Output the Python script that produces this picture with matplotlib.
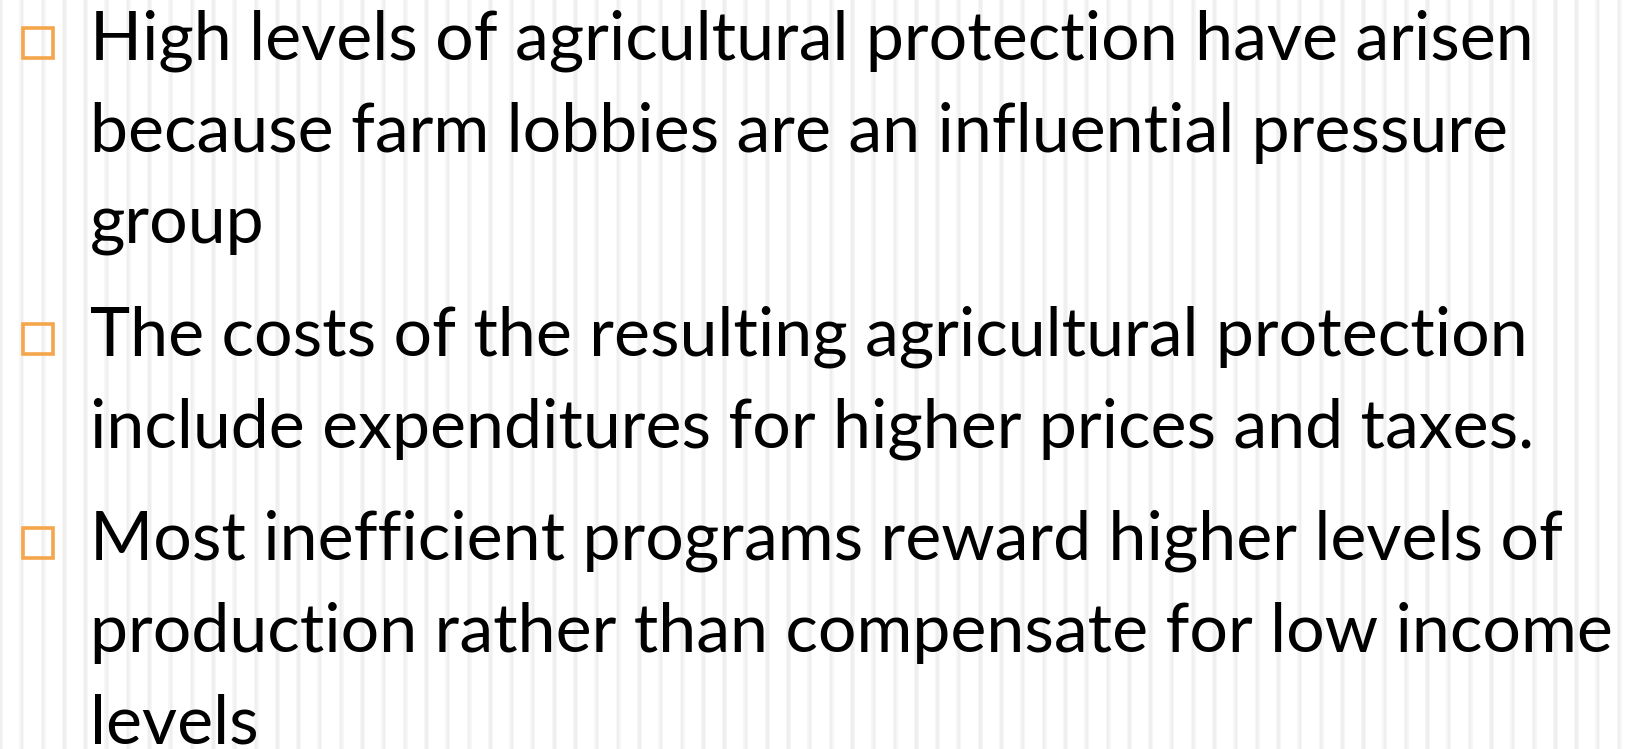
import matplotlib
matplotlib.use("Agg")
import matplotlib.pyplot as plt
import numpy as np
from matplotlib.patches import Rectangle

# slide content: each bullet is a list of wrapped lines
bullets = [
    ["High levels of agricultural protection have arisen",
     "because farm lobbies are an influential pressure",
     "group"],
    ["The costs of the resulting agricultural protection",
     "include expenditures for higher prices and taxes."],
    ["Most inefficient programs reward higher levels of",
     "production rather than compensate for low income",
     "levels"],
]

W, H = 1627, 749
fig = plt.figure(figsize=(W / 100, H / 100), dpi=100)
ax = fig.add_axes([0, 0, 1, 1])
ax.set_xlim(0, W)
ax.set_ylim(H, 0)
ax.axis("off")

# faint vertical stripes in the background
for x in np.arange(0.5, W, 21.3):
    ax.axvspan(x - 2.5, x + 2.5, color="#f6f6f6", lw=0, zorder=0)
    ax.axvspan(x - 1.2, x + 1.2, color="#efefef", lw=0, zorder=0)

line_gap = 92
para_gap = 112
y = 60
for lines in bullets:
    # orange hollow square bullet, sitting on the first baseline
    ax.add_patch(Rectangle((23, y - 32), 30, 30, fill=False,
                           edgecolor="#F5A54A", lw=2.6, zorder=2))
    for i, s in enumerate(lines):
        ax.text(90, y, s, fontsize=49, family="Lato", color="black",
                va="baseline", ha="left", zorder=3)
        if i < len(lines) - 1:
            y += line_gap
    y += para_gap

fig.savefig("out.png", dpi=100, facecolor="white")
